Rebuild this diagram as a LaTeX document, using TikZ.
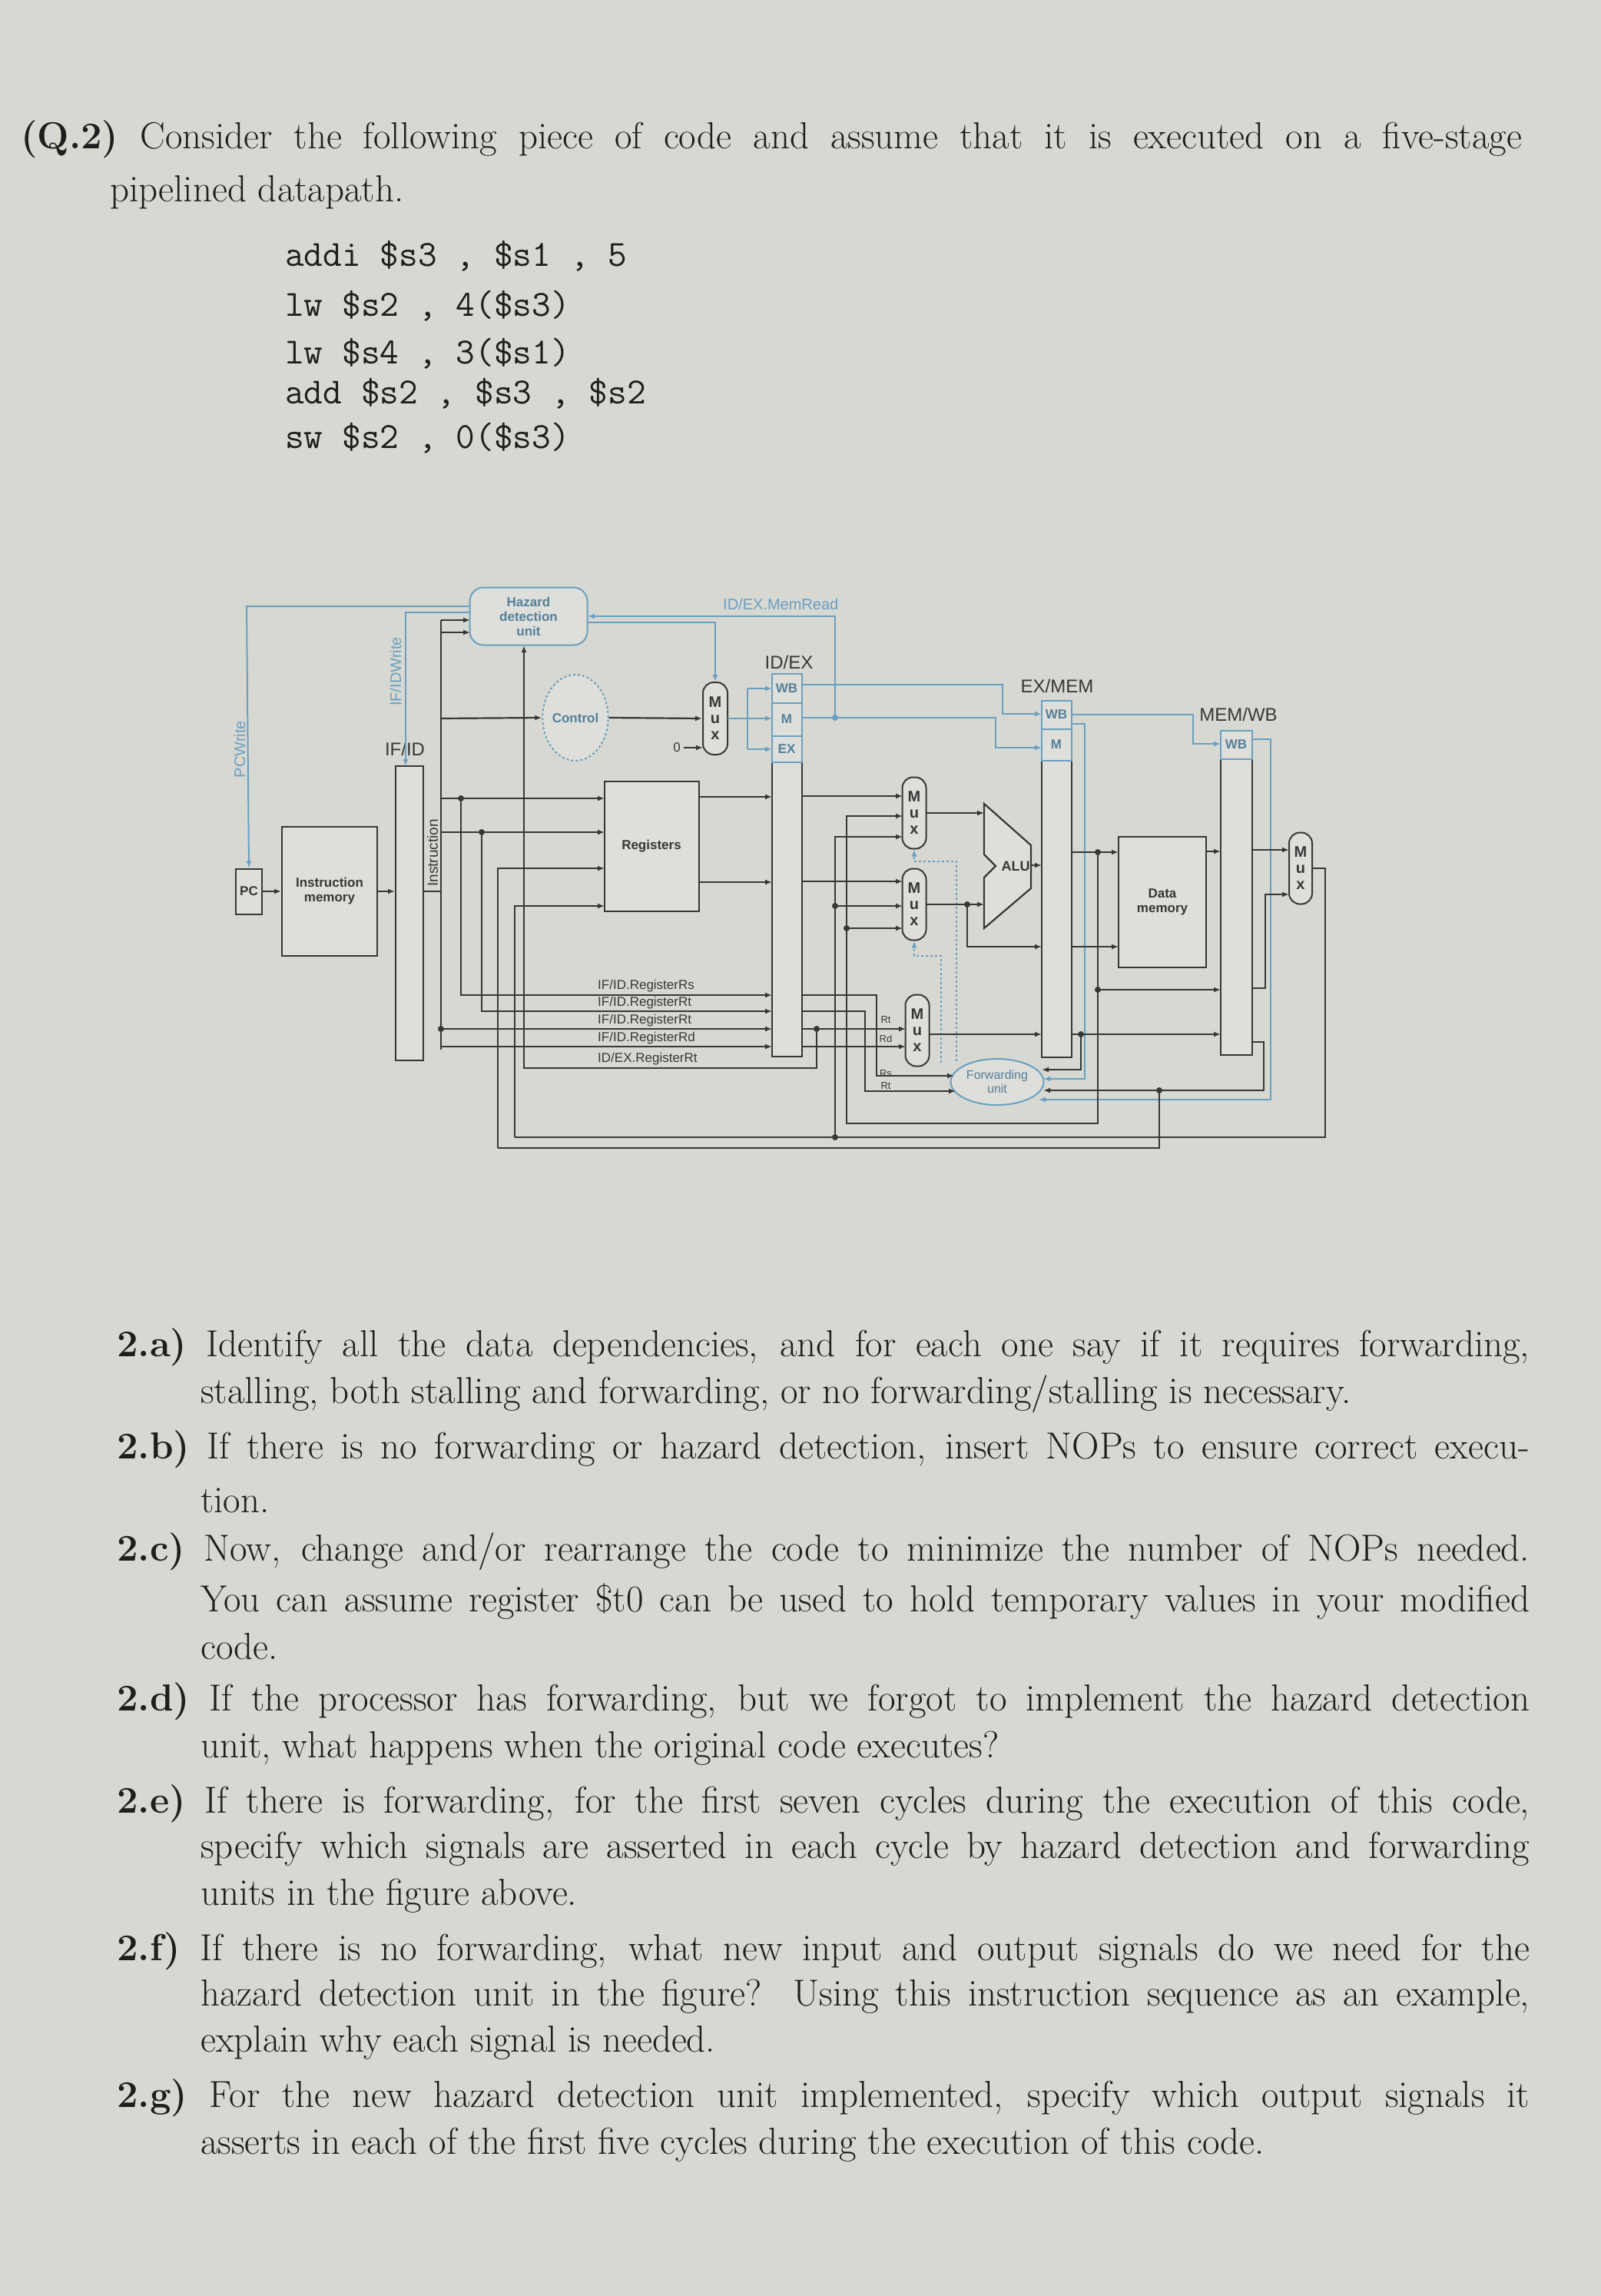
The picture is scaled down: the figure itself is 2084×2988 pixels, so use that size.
\documentclass[tikz,border=0pt]{standalone}
\usepackage{fontspec}
\setsansfont{Liberation Sans}
\usetikzlibrary{arrows.meta,shapes.geometric}
\definecolor{paper}{RGB}{216,216,211}
\definecolor{wirec}{RGB}{55,55,55}
\definecolor{bluec}{RGB}{105,160,192}
\definecolor{boxc}{RGB}{222,222,218}
\definecolor{inkc}{RGB}{30,30,30}
\begin{document}
\begin{tikzpicture}[x=1pt,y=-1pt,
 wire/.style={draw=wirec,line width=2.2pt},
 arr/.style={wire,-{Latex[length=9pt,width=7pt]}},
 bwire/.style={draw=bluec,line width=2pt},
 barr/.style={bwire,-{Latex[length=9pt,width=7pt]}},
 blk/.style={draw=wirec,line width=2pt,fill=boxc,inner sep=0pt,font=\sffamily\bfseries\fontsize{17}{19}\selectfont,text=wirec,align=center},
 bblk/.style={draw=bluec,line width=2pt,fill=boxc,inner sep=0pt,font=\sffamily\bfseries\fontsize{17}{19}\selectfont,text=bluec!80!black,align=center},
 mux/.style={blk,rounded corners=14pt,minimum width=31pt,minimum height=93pt,font=\sffamily\bfseries\fontsize{20}{21}\selectfont},
 lab/.style={font=\sffamily\fontsize{17}{19}\selectfont,text=wirec,inner sep=1pt},
 blab/.style={font=\sffamily\fontsize{20}{22}\selectfont,text=bluec,inner sep=1pt},
 big/.style={font=\sffamily\fontsize{24}{26}\selectfont,text=wirec,inner sep=1pt},
 dot/.style={circle,fill=wirec,inner sep=0pt,minimum size=8pt},
 qtxt/.style={anchor=west,inner sep=0pt,text=inkc,font=\fontsize{49}{56}\selectfont},
 ctxt/.style={anchor=west,inner sep=0pt,text=inkc,font=\ttfamily\fontsize{48}{56}\selectfont}]
\fill[paper] (0,0) rectangle (2084,2988);
% ---------- text ----------
\node[qtxt] (h1) at (27,181) {\makebox[1954pt][s]{\textbf{(Q.2)} Consider the following piece of code and assume that it is executed on a five-stage}};
\node[qtxt] (h2) at (143,250) {pipelined datapath.};
\node[ctxt] (c1) at (371,333) {addi \$s3 , \$s1 , 5};
\node[ctxt] (c2) at (371,398) {lw \$s2 , 4(\$s3)};
\node[ctxt] (c3) at (371,460) {lw \$s4 , 3(\$s1)};
\node[ctxt] (c4) at (371,512) {add \$s2 , \$s3 , \$s2};
\node[ctxt] (c5) at (371,570) {sw \$s2 , 0(\$s3)};
\node[qtxt] (a1) at (152,1753) {\makebox[1839pt][s]{\textbf{2.a)} Identify all the data dependencies, and for each one say if it requires forwarding,}};
\node[qtxt] (a2) at (261,1814) {stalling, both stalling and forwarding, or no forwarding/stalling is necessary.};
\node[qtxt] (b1) at (152,1886) {\makebox[1839pt][s]{\textbf{2.b)} If there is no forwarding or hazard detection, insert NOPs to ensure correct execu-}};
\node[qtxt] (b2) at (261,1953) {tion.};
\node[qtxt] (d1) at (152,2019) {\makebox[1839pt][s]{\textbf{2.c)} Now, change and/or rearrange the code to minimize the number of NOPs needed.}};
\node[qtxt] (d2) at (261,2084) {\makebox[1730pt][s]{You can assume register \$t0 can be used to hold temporary values in your modified}};
\node[qtxt] (d3) at (261,2143) {code.};
\node[qtxt] (e1) at (152,2214) {\makebox[1839pt][s]{\textbf{2.d)} If the processor has forwarding, but we forgot to implement the hazard detection}};
\node[qtxt] (e2) at (261,2275) {unit, what happens when the original code executes?};
\node[qtxt] (f1) at (152,2347) {\makebox[1839pt][s]{\textbf{2.e)} If there is forwarding, for the first seven cycles during the execution of this code,}};
\node[qtxt] (f2) at (261,2406) {\makebox[1730pt][s]{specify which signals are asserted in each cycle by hazard detection and forwarding}};
\node[qtxt] (f3) at (261,2467) {units in the figure above.};
\node[qtxt] (g1) at (152,2539) {\makebox[1839pt][s]{\textbf{2.f)} If there is no forwarding, what new input and output signals do we need for the}};
\node[qtxt] (g2) at (261,2598) {\makebox[1730pt][s]{hazard detection unit in the figure? Using this instruction sequence as an example,}};
\node[qtxt] (g3) at (261,2658) {explain why each signal is needed.};
\node[qtxt] (k1) at (152,2730) {\makebox[1839pt][s]{\textbf{2.g)} For the new hazard detection unit implemented, specify which output signals it}};
\node[qtxt] (k2) at (261,2791) {asserts in each of the first five cycles during the execution of this code.};
% ---------- diagram blocks ----------
\node[bblk,rounded corners=18pt,minimum width=153pt,minimum height=75pt] (hz) at (688,802) {Hazard\\detection\\unit};
\node[blk,minimum width=34pt,minimum height=59pt] (pc) at (324,1160) {PC};
\node[blk,minimum width=124pt,minimum height=168pt] (im) at (429,1160) {Instruction\\memory};
\node[blk,minimum width=36pt,minimum height=383pt] (ifid) at (533,1188) {};
\node[big] (ifidl) at (527,975) {IF/ID};
\node[bblk,ellipse,dashed,minimum width=70pt,minimum height=112pt] (ctl) at (749,934) {Control};
\node[mux,minimum width=32pt,minimum height=94pt] (mux0) at (931,935) {M\\u\\x};
\node[blk,minimum width=123pt,minimum height=169pt] (reg) at (848,1101) {Registers};
\node[blk,minimum width=39pt,minimum height=498pt] (idex) at (1024,1126) {};
\node[bblk,minimum width=39pt,minimum height=38pt] (idexwb) at (1024,896) {WB};
\node[bblk,minimum width=39pt,minimum height=43pt] (idexm) at (1024,936) {M};
\node[bblk,minimum width=39pt,minimum height=34pt] (idexex) at (1024,975) {EX};
\node[big] (idexl) at (1027,862) {ID/EX};
\node[mux] (muxa) at (1190,1058) {M\\u\\x};
\node[mux] (muxb) at (1190,1177) {M\\u\\x};
\node[mux] (muxc) at (1194,1341) {M\\u\\x};
\draw[wire,fill=boxc] (1281,1046)--(1342,1100)--(1342,1156)--(1281,1208)--(1281,1142)--(1296,1127)--(1281,1112)--cycle;
\node[lab,font=\sffamily\bfseries\fontsize{18}{20}\selectfont] (alu) at (1322,1127) {ALU};
\node[blk,minimum width=39pt,minimum height=463pt] (exmem) at (1375,1144) {};
\node[bblk,minimum width=39pt,minimum height=37pt] (exmemwb) at (1375,930) {WB};
\node[bblk,minimum width=39pt,minimum height=41pt] (exmemm) at (1375,969) {M};
\node[big] (exmeml) at (1376,893) {EX/MEM};
\node[blk,minimum width=114pt,minimum height=170pt] (dm) at (1513,1174) {Data\\memory};
\node[blk,minimum width=41pt,minimum height=422pt] (memwb) at (1609,1162) {};
\node[bblk,minimum width=41pt,minimum height=37pt] (memwbwb) at (1609,969) {WB};
\node[big] (memwbl) at (1612,930) {MEM/WB};
\node[mux,minimum width=30pt] (muxw) at (1693,1130) {M\\u\\x};
\node[bblk,ellipse,minimum width=121pt,minimum height=60pt,font=\sffamily\fontsize{16}{18}\selectfont] (fu) at (1298,1408) {Forwarding\\unit};
% labels
\node[blab,rotate=90] (pcwl) at (312,975) {PCWrite};
\node[blab,rotate=90] (ifwl) at (515,874) {IF/IDWrite};
\node[lab,rotate=90,font=\sffamily\fontsize{19}{20}\selectfont] (insl) at (563,1110) {Instruction};
\node[blab,anchor=west] (mrl) at (940,786) {ID/EX.MemRead};
\node[lab] (zero) at (881,973) {0};
\node[lab,anchor=west] (l1) at (777,1283) {IF/ID.RegisterRs};
\node[lab,anchor=west] (l2) at (777,1305) {IF/ID.RegisterRt};
\node[lab,anchor=west] (l3) at (777,1328) {IF/ID.RegisterRt};
\node[lab,anchor=west] (l4) at (777,1351) {IF/ID.RegisterRd};
\node[lab,anchor=west] (l5) at (777,1378) {ID/EX.RegisterRt};
\node[lab,font=\sffamily\fontsize{13}{14}\selectfont] (r1) at (1153,1327) {Rt};
\node[lab,font=\sffamily\fontsize{13}{14}\selectfont] (r2) at (1153,1352) {Rd};
\node[lab,font=\sffamily\fontsize{13}{14}\selectfont] (r3) at (1153,1397) {Rs};
\node[lab,font=\sffamily\fontsize{13}{14}\selectfont] (r4) at (1153,1413) {Rt};
% ---------- blue wires ----------
\draw[barr] (612,789)--(321,789)--(pc.north);
\draw[barr] (612,797)--(528,797)--(528,997);
\draw[barr] (765,810)--(931,810)--(mux0.north);
\draw[barr] (1087,934)--(1087,802)--(765,802);
\draw[bwire] (947,935)--(973,935) (973,896)--(973,975);
\draw[barr] (973,896)--(1005,896);
\draw[barr] (973,935)--(1005,935);
\draw[barr] (973,975)--(1005,975);
\draw[barr] (1044,891)--(1305,891)--(1305,929)--(1356,929);
\draw[barr] (1044,934)--(1296,934)--(1296,973)--(1356,973);
\draw[barr] (1395,930)--(1553,930)--(1553,968)--(1589,968);
\draw[barr] (1395,942)--(1412,942)--(1412,1404)--(1358,1404);
\draw[barr] (1630,962)--(1654,962)--(1654,1431)--(1352,1431);
\draw[barr,dashed] (1245,1381)--(1245,1121)--(1190,1121)--(muxa.south);
\draw[barr,dashed] (1225,1383)--(1225,1244)--(1190,1244)--(muxb.south);
\fill[bluec] (1087,934) circle (4pt);
% ---------- black wires ----------
\draw[arr] (pc.east)--(im.west|-pc.east);
\draw[arr] (im.east)--(ifid.west|-im.east);
\draw[wire] (551,1160)--(574,1160) (574,807)--(574,1366);
\draw[arr] (574,807)--(612,807);
\draw[arr] (574,823)--(612,823);
\draw[arr] (574,935)--(ctl.west);
\draw[arr] (ctl.east)--(mux0.west);
\draw[arr] (890,973)--(915,973);
\draw[arr] (574,1039)--(787,1039);
\draw[arr] (574,1083)--(787,1083);
\draw[arr] (648,1494)--(648,1130)--(787,1130);
\draw[arr] (670,1480)--(670,1179)--(787,1179);
\draw[arr] (600,1039)--(600,1295)--(1005,1295);
\draw[arr] (627,1083)--(627,1316)--(1005,1316);
\draw[arr] (574,1339)--(1005,1339);
\draw[arr] (574,1362)--(1005,1362);
\draw[arr] (1063,1339)--(1063,1390)--(682,1390)--(682,840);
\node[dot] (d1) at (600,1039) {};
\node[dot] (d2) at (627,1083) {};
\node[dot] (d3) at (574,1339) {};
\node[dot] (d4) at (1063,1339) {};
\draw[arr] (910,1037)--(1005,1037);
\draw[arr] (910,1148)--(1005,1148);
\draw[arr] (1044,1036)--(1175,1036);
\draw[arr] (1044,1147)--(1175,1147);
\draw[arr] (1044,1295)--(1141,1295)--(1141,1400)--(1242,1400);
\draw[arr] (1044,1316)--(1126,1316)--(1126,1420)--(1244,1420);
\draw[arr] (1044,1339)--(1179,1339);
\draw[arr] (1044,1362)--(1179,1362);
\draw[arr] (1209,1346)--(1356,1346);
\draw[arr] (1395,1346)--(1589,1346);
\draw[arr] (1407,1346)--(1407,1392)--(1356,1392);
\node[dot] (d5) at (1407,1346) {};
\draw[arr] (1206,1058)--(1281,1058);
\draw[arr] (1206,1177)--(1281,1177);
\draw[arr] (1259,1177)--(1259,1232)--(1356,1232);
\node[dot] (d6) at (1259,1177) {};
\draw[arr] (1342,1126)--(1356,1126);
\draw[arr] (1395,1109)--(1456,1109);
\draw[arr] (1395,1232)--(1456,1232);
\draw[arr] (1429,1109)--(1429,1462)--(1102,1462)--(1102,1062)--(1175,1062);
\draw[arr] (1102,1208)--(1175,1208);
\draw[arr] (1429,1288)--(1589,1288);
\node[dot] (d7) at (1429,1109) {};
\node[dot] (d8) at (1429,1288) {};
\node[dot] (d9) at (1102,1208) {};
\draw[arr] (1570,1108)--(1589,1108);
\draw[arr] (1630,1106)--(1678,1106);
\draw[arr] (1630,1286)--(1647,1286)--(1647,1164)--(1678,1164);
\draw[wire] (1708,1130)--(1725,1130)--(1725,1480)--(670,1480);
\draw[arr] (1087,1480)--(1087,1089)--(1175,1089);
\draw[arr] (1087,1179)--(1175,1179);
\node[dot] (d10) at (1087,1480) {};
\node[dot] (d11) at (1087,1179) {};
\draw[arr] (1630,1356)--(1645,1356)--(1645,1419)--(1358,1419);
\draw[wire] (1509,1419)--(1509,1494)--(648,1494);
\node[dot] (d12) at (1509,1419) {};
\end{tikzpicture}
\end{document}
